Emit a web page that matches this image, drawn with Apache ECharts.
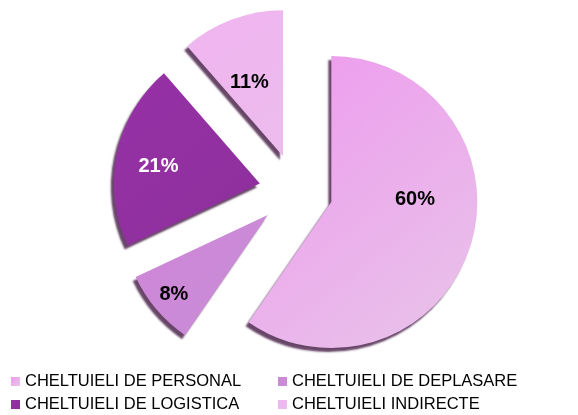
<!DOCTYPE html>
<html>
<head>
<meta charset="utf-8">
<script src="https://cdn.jsdelivr.net/npm/echarts@6/dist/echarts.min.js"></script>
<style>
  html, body { margin: 0; padding: 0; background: #fff; }
  #chart { width: 578px; height: 415px; }
</style>
</head>
<body>
<div id="chart"></div>
<script>
var categories = ['CHELTUIELI DE PERSONAL', 'CHELTUIELI DE DEPLASARE', 'CHELTUIELI DE LOGISTICA', 'CHELTUIELI INDIRECTE'];
// shares; labels show them rounded
var values = [59.6, 8.4, 20.6, 11.4];

// slice colours: [top-left, bottom-right] of the gradient
var sliceColors = [
    ['#ee9aee', '#e8c4e9'],
    ['#ce86d8', '#c98dd6'],
    ['#9631a6', '#8e2f9c'],
    ['#f0b4f0', '#ecbcec']
];
var labelColors = ['#000', '#000', '#fff', '#000'];
// label nudges from the default inside position
var labelShift = [[11, -25], [-36, 30], [-27, -1], [-7, -3]];

var chart = echarts.init(document.getElementById('chart'));

var pieData = values.map(function (v, i) {
    return {
        name: categories[i],
        value: v,
        selected: true,
        itemStyle: {
            color: new echarts.graphic.LinearGradient(0, 0, 1, 1, [
                { offset: 0, color: sliceColors[i][0] },
                { offset: 1, color: sliceColors[i][1] }
            ])
        },
        label: { color: labelColors[i] }
    };
});

var legendText = { fontFamily: 'Liberation Sans, Arial, sans-serif', fontSize: 16.5, color: '#000' };

function legendCol(left, names) {
    return {
        orient: 'vertical',
        left: left, top: 373,
        padding: 0,
        itemWidth: 9, itemHeight: 9, itemGap: 6,
        icon: 'rect',
        data: names,
        textStyle: legendText,
        selectedMode: false
    };
}

chart.setOption({
    animation: false,
    legend: [
        legendCol(11, [categories[0], categories[2]]),
        legendCol(278, [categories[1], categories[3]])
    ],
    series: [{
        type: 'pie',
        center: [296, 191],
        radius: 146,
        startAngle: 90,
        clockwise: true,
        selectedMode: 'multiple',
        selectedOffset: 37,
        percentPrecision: 0,
        emphasis: { disabled: true },
        itemStyle: {
            shadowColor: 'rgba(95, 60, 95, 0.95)',
            shadowBlur: 2,
            shadowOffsetX: -3,
            shadowOffsetY: 4
        },
        label: {
            position: 'inside',
            formatter: '{d}%',
            fontFamily: 'Liberation Sans, Arial, sans-serif',
            fontWeight: 'bold',
            fontSize: 20
        },
        labelLayout: function (p) {
            return { dx: labelShift[p.dataIndex][0], dy: labelShift[p.dataIndex][1] };
        },
        labelLine: { show: false },
        data: pieData
    }]
});
</script>
</body>
</html>
